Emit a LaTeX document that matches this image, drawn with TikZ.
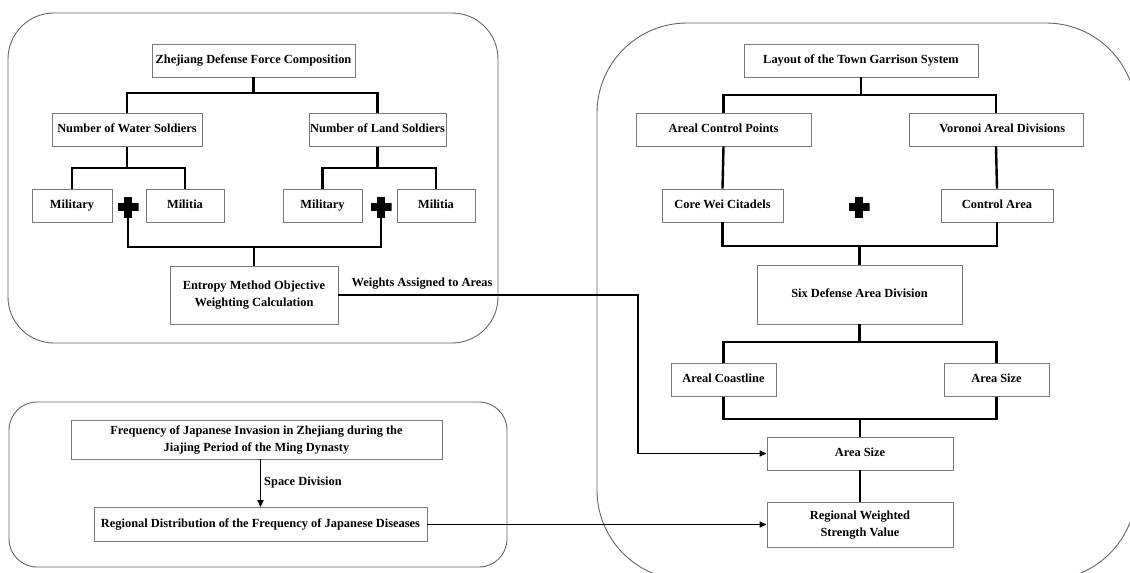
\documentclass[tikz,border=0pt]{standalone}
\usepackage{fontspec}
\setmainfont{Liberation Serif}
\usepackage{tikz}
\usetikzlibrary{arrows.meta, positioning, calc}
\definecolor{boxgray}{RGB}{120, 120, 120}
\definecolor{panelgray}{RGB}{100, 100, 100}

\begin{document}
\begin{tikzpicture}[x=1pt, y=-1pt,
  mbox/.style={rectangle, draw=boxgray, line width=0.9pt,
    font=\fontsize{12.4pt}{17pt}\selectfont\bfseries,
    minimum height=33pt, align=center, inner sep=1pt},
  pbox/.style={mbox, text height=8.6pt, text depth=2.8pt},
  conn/.style={line width=2.4pt, black},
  arr/.style={-{Triangle[length=7pt, width=6pt]}, line width=1.4pt, black},
  lbl/.style={font=\fontsize{12.4pt}{17pt}\selectfont\bfseries},
  panel/.style={draw=panelgray, line width=0.9pt},
  plussign/.style={minimum size=21pt, inner sep=0pt, path picture={
    \fill ([xshift=-3.8pt]path picture bounding box.north) rectangle ([xshift=3.8pt]path picture bounding box.south);
    \fill ([yshift=-3.8pt]path picture bounding box.west) rectangle ([yshift=3.8pt]path picture bounding box.east);}}
]
\useasboundingbox (0,0) rectangle (1130,573);

% panels
\draw[panel, rounded corners=46pt] (8,13) rectangle (498,343);
\draw[panel, rounded corners=28pt] (9,402) rectangle (507,567);
\draw[panel, rounded corners=90pt] (597,23) rectangle (1136,580);

% defense force
\node[pbox, minimum width=203pt] at (253.5,60.5) (zdf) {Zhejiang Defense Force Composition};
\node[pbox, minimum width=150pt] at (127,130) (water) {Number of Water Soldiers};
\node[pbox, minimum width=137pt] at (377.5,130) (land) {Number of Land Soldiers};
\node[pbox, minimum width=80pt] at (72,205.5) (mil1) {Military};
\node[pbox, minimum width=78pt] at (185,205.5) (mtia1) {Militia};
\node[pbox, minimum width=79pt] at (322.5,205.5) (mil2) {Military};
\node[pbox, minimum width=78pt] at (436,205.5) (mtia2) {Militia};
\node[plussign] at (128,207) (p1) {};
\node[plussign] at (381,207) (p2) {};
\node[mbox, minimum width=168pt, minimum height=58pt] at (254,295) (entropy)
  {Entropy Method Objective\\Weighting Calculation};

\coordinate (b1) at (253.5,93);
\coordinate (b2) at (127,168);
\coordinate (b3) at (377.5,168);
\coordinate (j1) at (254,247);
\draw[conn] (zdf.south) -- (b1);
\draw[conn] (water.north) |- (b1) -| (land.north);
\draw[conn] (water.south) -- (b2);
\draw[conn] (mil1.north) |- (b2) -| (mtia1.north);
\draw[conn] (land.south) -- (b3);
\draw[conn] (mil2.north) |- (b3) -| (mtia2.north);
\draw[conn] (p1.south) |- (j1) -| (p2.south);
\draw[conn] (j1) -- (entropy.north);

% garrison system
\node[pbox, minimum width=234pt] at (861,60.5) (layout) {Layout of the Town Garrison System};
\node[pbox, minimum width=175pt] at (723.5,129.5) (acp) {Areal Control Points};
\node[pbox, minimum width=174pt] at (996,129.5) (voronoi) {\quad Voronoi Areal Divisions};
\node[pbox, minimum width=121pt] at (722.5,205.5) (core) {Core Wei Citadels};
\node[pbox, minimum width=112pt] at (997,205.5) (ctrl) {Control Area};
\node[plussign] at (859,207) (p3) {};
\node[pbox, minimum width=205pt, minimum height=59pt] at (859.5,294.5) (six) {Six Defense Area Division};
\node[pbox, minimum width=105pt] at (723.5,380) (coast) {Areal Coastline};
\node[pbox, minimum width=105pt] at (996.5,380) (asize1) {Area Size};
\node[pbox, minimum width=186pt] at (860,453.5) (asize2) {Area Size};
\node[mbox, minimum width=186pt, minimum height=45pt] at (860,525) (rws)
  {Regional Weighted\\Strength Value};

\coordinate (b4) at (861,95);
\coordinate (j2) at (859.5,246);
\coordinate (b5) at (859.5,342);
\coordinate (j3) at (860,419);
\draw[conn] (layout.south) -- (b4);
\draw[conn] (acp.north) |- (b4) -| (voronoi.north);
\draw[conn] (acp.south) -- (core.north);
\draw[conn] (voronoi.south) -- (ctrl.north);
\draw[conn] (core.south) |- (j2) -| (ctrl.south);
\draw[conn] (j2) -- (six.north);
\draw[conn] (six.south) -- (b5);
\draw[conn] (coast.north) |- (b5) -| (asize1.north);
\draw[conn] (coast.south) |- (j3) -| (asize1.south);
\draw[conn] (j3) -- (asize2.north);
\draw[conn] (asize2.south) -- (rws.north);

% invasion frequency
\node[mbox, minimum width=371pt, minimum height=39pt] at (256.5,439.5) (freq)
  {Frequency of Japanese Invasion in Zhejiang during the\\Jiajing Period of the Ming Dynasty};
\node[pbox, minimum width=333pt, minimum height=34pt] at (260.5,524.5) (regdist)
  {Regional Distribution of the Frequency of Japanese Diseases};
\draw[arr] (freq.south -| regdist.north) -- (regdist.north);
\node[lbl] at (303,483) (space) {Space Division};

% links
\coordinate (wbend) at (638,295);
\draw[arr] (entropy.east) -- (wbend) |- (asize2.west);
\node[lbl] at (422,284) (weights) {Weights Assigned to Areas};
\draw[arr] (regdist.east) -- (regdist.east -| rws.west);
\end{tikzpicture}
\end{document}
